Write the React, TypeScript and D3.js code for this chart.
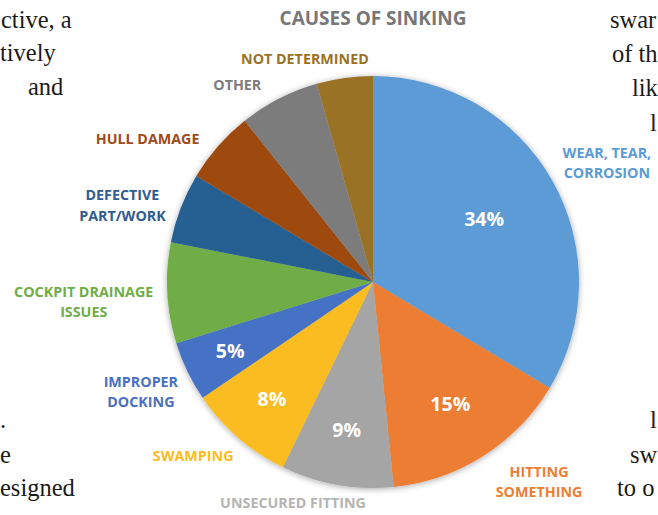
import React from "react";
import * as d3 from "d3";

// ---- DATA ----
const title = "CAUSES OF SINKING";
const categories = [
  "WEAR, TEAR,|CORROSION",
  "HITTING|SOMETHING",
  "UNSECURED FITTING",
  "SWAMPING",
  "IMPROPER|DOCKING",
  "COCKPIT DRAINAGE|ISSUES",
  "DEFECTIVE|PART/WORK",
  "HULL DAMAGE",
  "OTHER",
  "NOT DETERMINED",
];
const values = [33.6, 14.8, 8.8, 8.3, 4.7, 7.9, 5.5, 5.7, 6.3, 4.4];
const showPercent = [true, true, true, true, true, false, false, false, false, false];
const colors = [
  "#5b9bd5", "#ed7d31", "#a5a5a5", "#fbbc22", "#4472c4",
  "#70ad47", "#255e91", "#9e480e", "#7c7c7c", "#9a7227",
];
const labelColors = [
  "#5b9bd5", "#ed7d31", "#b4b4b4", "#fbbc22", "#4a6fbf",
  "#70ad47", "#2f5b90", "#a04a1c", "#7c7c7c", "#9a7227",
];

// ---- LAYOUT (label placement, polar: degrees clockwise from top, px from centre) ----
const labelAngle = [63.0, 140.3, 199.9, 226, 244.6, 266, 287, 302.4, 325.4, 343];
const labelRadius = [262.5, 260, 235, 250, 257, 290, 262, 267, 239, 233];
const percentRadius = [0.62, 0.7, 0.73, 0.75, 0.77];

// Background page text fragments (magazine page around the chart)
const bgText: { t: string; x: number; y: number; anchor: string }[] = [
  { t: "ctive, a", x: 1, y: 28, anchor: "start" },
  { t: "tively", x: 0, y: 61, anchor: "start" },
  { t: "and", x: 28, y: 95, anchor: "start" },
  { t: ".", x: 0, y: 428, anchor: "start" },
  { t: "e", x: 0, y: 463, anchor: "start" },
  { t: "esigned", x: 0, y: 496, anchor: "start" },
  { t: "swar", x: 610, y: 28, anchor: "start" },
  { t: "of th", x: 612, y: 62, anchor: "start" },
  { t: "lik", x: 632, y: 96, anchor: "start" },
  { t: "l", x: 650, y: 131, anchor: "start" },
  { t: "l", x: 650, y: 428, anchor: "start" },
  { t: "sw", x: 630, y: 463, anchor: "start" },
  { t: "to o", x: 617, y: 496, anchor: "start" },
];

const W = 658;
const H = 515;
const cx = 373;
const cy = 282;
const R = 206;

export default function App() {
  const pie = d3.pie<number>().sort(null).value((d) => d);
  const arcs = pie(values);
  const arc = d3.arc<d3.PieArcDatum<number>>().innerRadius(0).outerRadius(R);
  const total = d3.sum(values);
  const fmt = (v: number) => `${Math.round((v / total) * 100)}%`;
  const font = "'Open Sans', 'DejaVu Sans', sans-serif";

  return (
    <svg
      width={W}
      height={H}
      viewBox={`0 0 ${W} ${H}`}
      style={{ position: "absolute", left: 0, top: 0, background: "#fff" }}
    >
      <defs>
        <filter id="shadow" x="-20%" y="-20%" width="140%" height="140%">
          <feDropShadow dx="0" dy="1" stdDeviation="3" floodColor="#000" floodOpacity="0.35" />
        </filter>
      </defs>
      <rect width={W} height={H} fill="#fff" />
      {bgText.map((b, i) => (
        <text
          key={"bg" + i}
          x={b.x}
          y={b.y}
          textAnchor={b.anchor as any}
          fontFamily="'Liberation Serif', 'DejaVu Serif', serif"
          fontSize={24.5}
          fill="#1a1a1a"
        >
          {b.t}
        </text>
      ))}
      <text
        x={cx}
        y={25}
        textAnchor="middle"
        fontFamily={font}
        fontWeight={700}
        fontSize={19}
        fill="#777777"
      >
        {title}
      </text>
      <g transform={`translate(${cx},${cy})`}>
        <g filter="url(#shadow)">
          {arcs.map((a, i) => (
            <path key={i} d={arc(a) || ""} fill={colors[i]} />
          ))}
        </g>
        {arcs.map((a, i) => {
          if (!showPercent[i]) return null;
          const r = R * percentRadius[i];
          const la = d3.arc<d3.PieArcDatum<number>>().innerRadius(r).outerRadius(r);
          const [x, y] = la.centroid(a);
          return (
            <text
              key={"p" + i}
              x={x}
              y={y}
              dy="0.35em"
              textAnchor="middle"
              fontFamily={font}
              fontWeight={700}
              fontSize={19.5}
              fill="#fff"
            >
              {fmt(values[i])}
            </text>
          );
        })}
        {categories.map((c, i) => {
          const ang = (labelAngle[i] * Math.PI) / 180;
          const x = labelRadius[i] * Math.sin(ang);
          const y = -labelRadius[i] * Math.cos(ang);
          const lines = c.split("|");
          const lh = 20.5;
          const y0 = y - ((lines.length - 1) * lh) / 2;
          return (
            <text
              key={"c" + i}
              textAnchor="middle"
              fontFamily={font}
              fontWeight={700}
              fontSize={14.3}
              fill={labelColors[i]}
            >
              {lines.map((l, j) => (
                <tspan key={j} x={x} y={y0 + j * lh} dy="0.35em">
                  {l}
                </tspan>
              ))}
            </text>
          );
        })}
      </g>
    </svg>
  );
}
